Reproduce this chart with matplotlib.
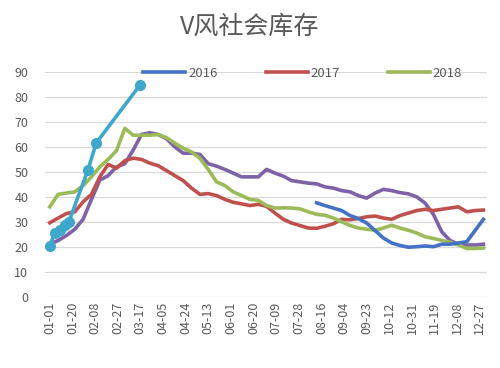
import pandas as pd
import matplotlib.pyplot as plt

plt.rcParams['font.family'] = ['Noto Sans CJK SC', 'DejaVu Sans']

# weekly readings, day 0 = 01-01
week_days = list(range(0, 365, 7))

purple = [21, 22.5, 24.5, 27, 31, 39, 46.7, 48.5, 52, 53.3, 58.7, 65, 65.7, 65,
          63.3, 60, 57.5, 57.5, 57, 53.3, 52.3, 51, 49.5, 48, 48, 48, 51, 49.5,
          48.3, 46.5, 46, 45.5, 45.2, 44, 43.5, 42.5, 42, 40.5, 39.5, 41.5, 43,
          42.5, 41.7, 41.2, 40, 37.5, 33, 26, 22.5, 21, 20.7, 20.7, 21]

s2017 = [29.6, 31.5, 33.3, 34, 38, 41, 48, 53, 51.5, 54.5, 55.5, 55, 53.5, 52.5,
         50.5, 48.5, 46.5, 43.5, 41, 41.3, 40.5, 39, 37.8, 37.2, 36.5, 37, 36.2,
         33.5, 31, 29.5, 28.5, 27.5, 27.4, 28.2, 29.2, 31, 30.8, 31.3, 32, 32.3,
         31.5, 31, 32.5, 33.5, 34.5, 35, 34.5, 35, 35.5, 36, 34, 34.5, 34.7]

s2018 = [36, 41, 41.5, 42, 44.5, 48, 52, 55, 58.5, 67.5, 64.7, 64.7, 64.7, 65,
         63.7, 61.5, 59.5, 58, 55.5, 51, 46, 44.5, 42, 40.5, 39, 38.6, 36.5, 35.5,
         35.6, 35.5, 35.2, 34, 33, 32.6, 31.5, 30, 28.5, 27.5, 27, 26.6, 27.5,
         28.6, 27.5, 26.6, 25.5, 24, 23.3, 22.5, 21.8, 20.7, 19.3, 19.3, 19.5]

# 2016 only starts in mid-August
s2016_days = list(range(224, 365, 7))
s2016 = [37.6, 36.5, 35.5, 34.5, 32.5, 31.3, 29.5, 26.5, 23.5, 21.5, 20.5, 19.8,
         20, 20.3, 20, 21, 21, 21.5, 22, 26.5, 31]

# current year, with markers
cur_dates = ['01-01', '01-05', '01-10', '01-14', '01-17', '02-02', '02-09', '03-17']
cur_vals = [20.3, 25.4, 26.7, 28.7, 30, 50.7, 61.6, 85]

def to_day(md):
    return (pd.Timestamp('2016-' + md) - pd.Timestamp('2016-01-01')).days

cur_days = [to_day(d) for d in cur_dates]

tick_dates = pd.date_range('2016-01-01', '2016-12-31', freq='19D')
tick_days = [(d - tick_dates[0]).days for d in tick_dates]
tick_labels = [d.strftime('%m-%d') for d in tick_dates]

fig = plt.figure(figsize=(5, 3.68), dpi=100)
ax = fig.add_axes([0.09, 0.194, 0.884, 0.61])

lw = 2.6
ax.plot(week_days, purple, color='#7E62A8', lw=lw, label='_nolegend_')
ax.plot(week_days, s2017, color='#C0504D', lw=lw, label='2017')
ax.plot(week_days, s2018, color='#9BBB59', lw=lw, label='2018')
ax.plot(s2016_days, s2016, color='#4472C4', lw=lw, label='2016')
ax.plot(cur_days, cur_vals, color='#3FA7CB', lw=lw, marker='o', ms=7,
        label='_nolegend_')

ax.set_ylim(0, 90)
ax.set_xlim(-4, 367)
ax.set_yticks(range(0, 91, 10))
ax.set_xticks(tick_days)
ax.set_xticklabels(tick_labels, rotation=90)
ax.tick_params(axis='both', length=0, colors='#595959', labelsize=9)
ax.tick_params(axis='y', pad=12)
ax.grid(axis='y', color='#D9D9D9', lw=0.9)
ax.set_axisbelow(True)
for sp in ax.spines.values():
    sp.set_visible(False)

h, l = ax.get_legend_handles_labels()
order = [l.index('2016'), l.index('2017'), l.index('2018')]
ax.legend([h[i] for i in order], [l[i] for i in order], ncol=3, frameon=False,
          loc='center left', bbox_to_anchor=(0.222, 0.995), fontsize=9.5,
          handlelength=3.2, handletextpad=0.2, columnspacing=3.65,
          borderaxespad=0, borderpad=0, labelcolor='#595959')

fig.text(0.5, 0.928, 'V风社会库存', ha='center', va='center', fontsize=18,
         color='#595959')

fig.savefig('out.png', dpi=100)
